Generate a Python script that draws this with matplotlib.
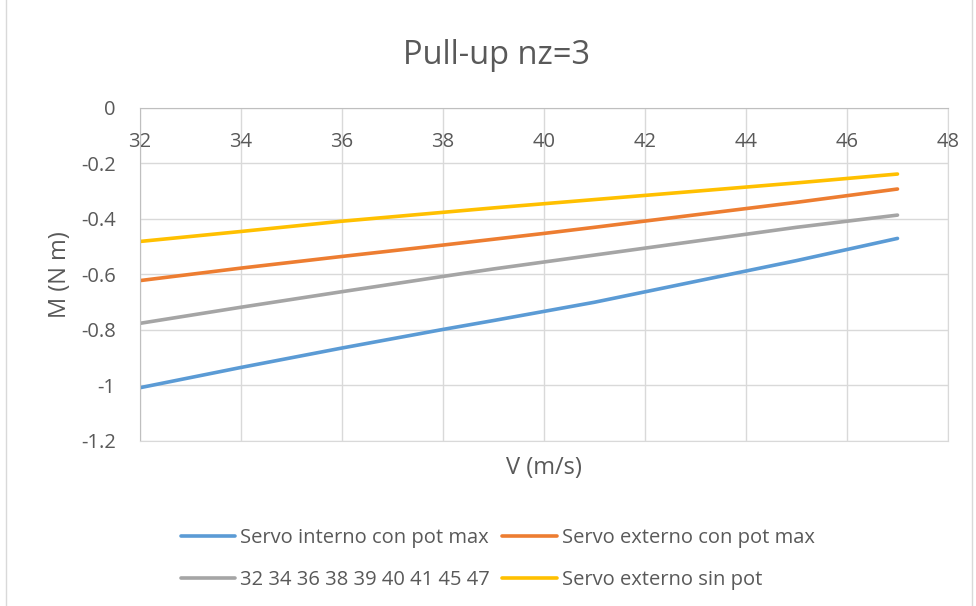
import matplotlib.pyplot as plt
from matplotlib.patches import Rectangle

v = [32, 34, 36, 38, 39, 40, 41, 45, 47]

m_interno_max = [-1.008, -0.935, -0.865, -0.798, -0.766, -0.733, -0.700, -0.550, -0.470]
m_externo_max = [-0.622, -0.577, -0.535, -0.494, -0.473, -0.452, -0.430, -0.340, -0.292]
m_serie3 = [-0.776, -0.718, -0.662, -0.607, -0.580, -0.555, -0.530, -0.430, -0.386]
m_externo_sin = [-0.481, -0.445, -0.408, -0.376, -0.360, -0.345, -0.330, -0.270, -0.238]

labels = ['Servo interno con pot max', 'Servo externo con pot max',
          '32 34 36 38 39 40 41 45 47', 'Servo externo sin pot']
colors = ['#5B9BD5', '#ED7D31', '#A5A5A5', '#FFC000']

plt.rcParams['font.family'] = ['Open Sans', 'DejaVu Sans']
text_color = '#595959'

fig = plt.figure(figsize=(9.76, 6.06), dpi=100)
fig.patches.append(Rectangle((0.006, -0.01), 0.99, 1.02, transform=fig.transFigure,
                             fill=False, edgecolor='#D9D9D9', linewidth=1))
ax = fig.add_axes([0.1434, 0.2723, 0.8279, 0.5495])

lines = []
for y, lab, c in zip([m_interno_max, m_externo_max, m_serie3, m_externo_sin], labels, colors):
    ln, = ax.plot(v, y, color=c, linewidth=2.6, label=lab, solid_capstyle='round')
    lines.append(ln)

ax.set_xlim(32, 48)
ax.set_ylim(-1.2, 0)
ax.set_xticks(range(32, 49, 2))
ax.set_yticks([0, -0.2, -0.4, -0.6, -0.8, -1, -1.2])
ax.set_yticklabels(['0', '-0.2', '-0.4', '-0.6', '-0.8', '-1', '-1.2'])
ax.grid(True, color='#D9D9D9', linewidth=1)
ax.set_axisbelow(True)

for s in ['top', 'left']:
    ax.spines[s].set_color('#BFBFBF')
for s in ['bottom', 'right']:
    ax.spines[s].set_color('#D9D9D9')

ax.tick_params(axis='x', top=False, bottom=False, labeltop=True, labelbottom=False,
               pad=-35, labelsize=14.5, labelcolor=text_color)
ax.tick_params(axis='y', left=False, labelsize=14.5, labelcolor=text_color, pad=14)

ax.set_xlabel('V (m/s)', fontsize=17, color=text_color, labelpad=11)
ax.set_ylabel('M (N m)', fontsize=17, color=text_color, labelpad=6)
fig.text(0.509, 0.894, 'Pull-up nz=3', fontsize=23.5, color=text_color,
         ha='center', va='baseline')

# row-major order like Excel: blue, orange / gray, yellow
order = [0, 2, 1, 3]
fig.legend([lines[i] for i in order], [labels[i] for i in order],
           loc='center', bbox_to_anchor=(0.51, 0.0775), ncol=2, frameon=False,
           fontsize=14.5, labelcolor=text_color, handlelength=2.7, handletextpad=0.25,
           columnspacing=0.6, labelspacing=1.1)

fig.savefig('out.png', dpi=100)
